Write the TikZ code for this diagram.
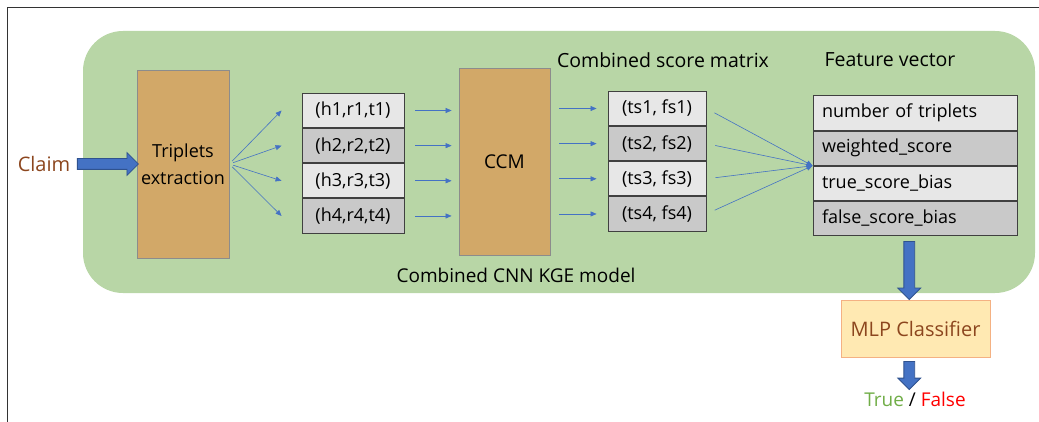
\documentclass[tikz,border=0pt]{standalone}
\usepackage{fontspec}
\setmainfont{Open Sans}
\usetikzlibrary{positioning,shapes.arrows,arrows.meta,calc}

\definecolor{kgegreen}{RGB}{184,214,166}
\definecolor{boxbrown}{RGB}{210,168,104}
\definecolor{rowlight}{RGB}{231,231,231}
\definecolor{rowdark}{RGB}{201,201,201}
\definecolor{arrowblue}{RGB}{68,114,196}
\definecolor{arrowdark}{RGB}{47,82,143}
\definecolor{mlpfill}{RGB}{255,233,178}
\definecolor{mlpborder}{RGB}{244,177,131}
\definecolor{textbrown}{RGB}{140,70,30}
\definecolor{truegreen}{RGB}{112,173,71}

\tikzset{
  tabfont/.style={font=\fontsize{18}{21}\selectfont},
  rowbase/.style={draw=black!75, line width=0.9pt, inner sep=0pt, minimum height=34.25pt, tabfont},
  lightrow/.style={rowbase, fill=rowlight},
  darkrow/.style={rowbase, fill=rowdark},
  bigbox/.style={draw=black!45, line width=0.8pt, fill=boxbrown, inner sep=0pt},
  thinarrow/.style={draw=arrowblue, line width=0.6pt, -{Triangle[length=6pt,width=5pt]}},
  bigarrow/.style={single arrow, draw=arrowdark, fill=arrowblue, line width=0.8pt,
    inner xsep=0pt, inner ysep=5pt, minimum width=0pt, single arrow head extend=6pt,
    single arrow tip angle=90}
}

\begin{document}
\begin{tikzpicture}[x=1pt,y=-1pt]
\useasboundingbox (0,0) rectangle (1039,422);
\draw[black!80, line width=0.9pt] (1039,7) -- (7,7) -- (7,422);

% model background
\node[fill=kgegreen, rounded corners=40pt, minimum width=952pt, minimum height=262pt] (kge) at (559,162) {};
\node[font=\fontsize{19}{22}\selectfont] (kgelabel) at (516,275) {Combined CNN KGE model};

\node[font=\fontsize{20}{24}\selectfont, text=textbrown] (claim) at (44,164) {Claim};
\node[bigbox, minimum width=92pt, minimum height=188pt, align=center, font=\fontsize{18}{27}\selectfont] (TE) at (183,164) {Triplets\\extraction};
\node[bigbox, minimum width=91pt, minimum height=187pt, font=\fontsize{19}{22}\selectfont] (CCM) at (504.5,161.5) {CCM};

% triplets
\node[lightrow, minimum width=102pt] (T1) at (353,110.5) {(h1,r1,t1)};
\node[darkrow, minimum width=102pt] (T2) [below=0pt of T1] {(h2,r2,t2)};
\node[lightrow, minimum width=102pt] (T3) [below=0pt of T2] {(h3,r3,t3)};
\node[darkrow, minimum width=102pt] (T4) [below=0pt of T3] {(h4,r4,t4)};

% scores
\node[font=\fontsize{19.5}{23}\selectfont] (smlabel) at (663,60) {Combined score matrix};
\node[lightrow, minimum width=98pt] (S1) at (657,108.5) {(ts1, fs1)};
\node[darkrow, minimum width=98pt] (S2) [below=0pt of S1] {(ts2, fs2)};
\node[lightrow, minimum width=98pt] (S3) [below=0pt of S2] {(ts3, fs3)};
\node[darkrow, minimum width=98pt] (S4) [below=0pt of S3] {(ts4, fs4)};

% feature vector
\node[font=\fontsize{19.5}{23}\selectfont] (fvlabel) at (890,60) {Feature vector};
\node[lightrow, text width=186pt, inner xsep=9pt, align=left] (F1) at (915,113) {number of triplets};
\node[darkrow, text width=186pt, inner xsep=9pt, align=left] (F2) [below=0pt of F1] {weighted\_score};
\node[lightrow, text width=186pt, inner xsep=9pt, align=left] (F3) [below=0pt of F2] {true\_score\_bias};
\node[darkrow, text width=186pt, inner xsep=9pt, align=left] (F4) [below=0pt of F3] {false\_score\_bias};

\node[draw=mlpborder, line width=1pt, fill=mlpfill, minimum width=149pt, minimum height=57pt, font=\fontsize{20}{24}\selectfont, text=textbrown] (MLP) at (915.5,328.5) {MLP Classifier};
\node[font=\fontsize{19}{22}\selectfont] (out) at (915,399) {\textcolor{truegreen}{True} / \textcolor{red}{False}};

% block arrows
\node[bigarrow, minimum height=61pt] (a1) at ($(claim.east)!0.5!(TE.west)$) {};
\node[bigarrow, minimum height=58pt, rotate=-90] (a2) at ($([xshift=-6pt]F4.south)!0.5!([xshift=-6pt]MLP.north)$) {};
\node[bigarrow, minimum height=28pt, rotate=-90] (a3) at ($([xshift=-6pt]MLP.south)!0.5!([xshift=-6pt]out.north)$) {};

% thin arrows
\foreach \i in {1,2,3,4} {
  \draw[thinarrow, shorten <=4pt] (TE.east) -- ([xshift=-20pt]T\i.west);
  \draw[thinarrow, shorten <=11pt, shorten >=7pt] (T\i.east) -- (T\i.east -| CCM.west);
  \draw[thinarrow, shorten <=9pt, shorten >=11pt] (CCM.east |- S\i.west) -- (S\i.west);
  \draw[thinarrow, shorten <=9pt] (S\i.east) -- (F2.south west);
}
\end{tikzpicture}
\end{document}
